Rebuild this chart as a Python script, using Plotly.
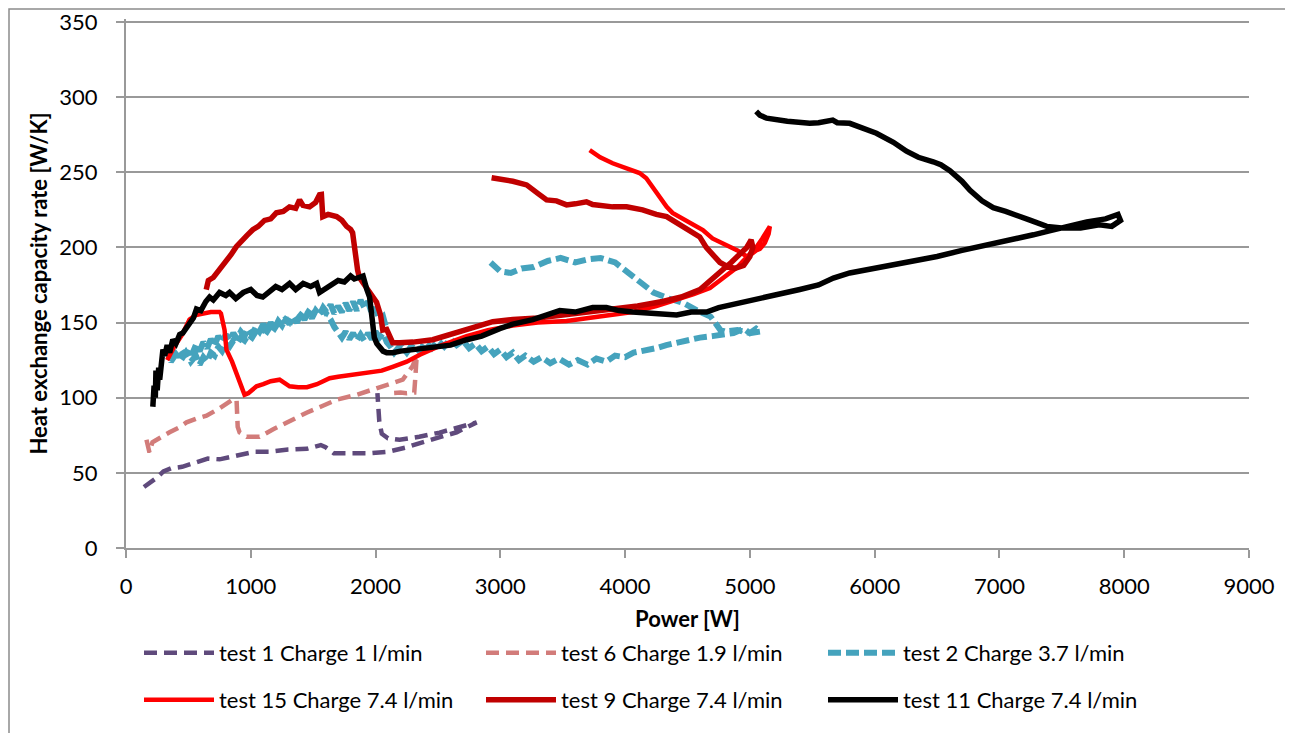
import plotly.graph_objects as go

# ---------------- data ----------------
t1_x = [144, 200, 250, 300, 360, 450, 550, 656, 750, 850, 1025, 1150, 1300, 1450, 1561, 1600, 1665, 1800, 1950, 2098,
        2250, 2362, 2500, 2650, 2810, 2650, 2513, 2350, 2193, 2100, 2050, 2030, 2018, 2015]
t1_y = [40.6, 44, 47, 51, 53, 54, 57, 59.5, 59, 61, 64, 64, 65.5, 66, 68.5, 67, 63, 63, 63, 64,
        67, 70, 73, 77, 83.6, 80, 76.8, 74, 72, 73, 76, 84, 95, 103]

t6_x = [164, 188, 212, 260, 349, 420, 485, 560, 645, 750, 855, 886, 895, 910, 966, 1020, 1070, 1180, 1287, 1360,
        1447, 1560, 1688, 1850, 2010, 2100, 2218, 2297, 2330, 2320, 2310, 2250, 2200, 2120]
t6_y = [72, 63.6, 70.4, 73, 77, 80, 83.6, 86, 88, 93, 98.7, 98.7, 80.7, 77, 74, 74, 74, 79, 83.6, 87,
        90, 94, 98.7, 102, 106.6, 109, 112, 121, 128, 115, 103.4, 103, 103.4, 103]

t2_x = [2080, 2060, 2030, 2000, 1970, 1940, 1910, 1880, 1850, 1820, 1790, 1760, 1730, 1700, 1670, 1640, 1608, 1580,
        1550, 1520, 1490, 1460, 1430, 1400, 1370, 1340, 1310, 1280, 1250, 1220, 1190, 1160, 1130, 1100, 1070, 1040,
        1010, 980, 950, 920, 890, 860, 830, 800, 770, 740, 710, 680, 650, 620, 590, 560, 530, 500, 470, 440, 410,
        380, 350, 330,
        360, 400, 440, 480, 520, 560, 590, 620, 650, 680, 710, 740, 770, 800, 830, 860, 890, 920, 950, 980, 1010,
        1040, 1070, 1100, 1130, 1160, 1190, 1220, 1250, 1280, 1310, 1340, 1370, 1400, 1430, 1460, 1490, 1520, 1550,
        1580, 1610, 1640, 1670, 1700, 1730, 1760, 1790, 1820, 1850, 1880, 1910, 1940, 1970, 2000, 2030, 2060, 2090,
        2120, 2150,
        2200, 2250, 2300, 2350, 2400, 2450, 2500, 2550, 2600, 2650, 2700, 2750, 2800, 2850, 2900, 2950, 3000, 3050,
        3100, 3150, 3200, 3267, 3330, 3400, 3470, 3550, 3620, 3699, 3770, 3850, 3920, 4000, 4068, 4150, 4250, 4330,
        4420, 4500, 4600, 4700, 4800, 4868, 4950, 5000, 5050, 5084,
        5000, 4900, 4800, 4764, 4720, 4684, 4580, 4468, 4350, 4228, 4120, 4019, 3920, 3803, 3700, 3600, 3483, 3380,
        3267, 3170, 3083, 3000, 2950, 2922]
t2_y = [148, 154, 152, 160, 156, 164, 160, 165, 158, 164, 158, 163, 157, 161, 156, 162, 157, 160,
        155, 158, 153, 157, 152, 156, 150, 154, 149, 153, 148, 151, 146, 150, 145, 149, 144, 147,
        142, 146, 141, 144, 139, 143, 138, 142, 137, 141, 135, 139, 133, 137, 131, 135, 129, 133, 128, 132, 127,
        131, 126, 130,
        124, 129, 125, 130, 124, 128, 122, 127, 124, 130, 128, 134, 131, 136, 134, 138, 136, 140, 138, 142, 140,
        144, 142, 146, 144, 148, 146, 150, 148, 152, 150, 154, 152, 155, 153, 157, 155, 158, 156,
        159, 156, 152, 147, 143, 140, 144, 139, 143, 138, 142, 138, 143, 139, 144, 140, 143, 137,
        134, 130,
        135, 130, 136, 131, 137, 133, 138, 134, 139, 135, 138, 133, 136, 131, 134, 129, 132, 127,
        130, 125, 128, 124, 127, 123, 126, 122, 125, 122, 126, 124, 128, 127, 130, 131, 133, 135,
        137, 138, 140, 141, 142, 143, 146, 143, 146, 144,
        143, 145, 144, 145, 150, 154, 158, 163, 166, 170, 177, 183, 190, 193, 192, 190, 193, 191,
        187, 186, 183, 184, 188, 190]

t15_x = [330, 380, 450, 509, 560, 620, 680, 750, 761, 790, 805, 850, 886, 920, 950, 980, 1020, 1046, 1100, 1160,
         1231, 1270, 1311, 1380, 1450, 1530, 1632, 1700, 1800, 1952, 2050, 2137, 2250, 2355, 2500, 2730, 2900, 3100,
         3300, 3531, 3700, 3900, 4060, 4250, 4413, 4550, 4680, 4810, 4900, 4980, 5050, 5100, 5140, 5160, 5150, 5120,
         5080, 5050, 5020, 4975, 4900, 4800, 4700, 4623, 4530, 4438, 4380, 4333, 4280, 4220, 4170, 4116, 4000, 3900,
         3800, 3716]
t15_y = [125, 133, 142, 152, 155, 156, 157, 157, 156, 145, 132, 124, 116.6, 109, 102, 103, 106, 107.6, 109, 111,
         112, 110, 107.6, 107, 107, 109, 113, 114, 115, 116.6, 118, 120.6, 124, 128.6, 134, 141, 145, 148,
         150, 151, 153, 155, 157, 161, 165, 169, 173, 181, 187, 194, 200, 206, 212, 214, 209, 203,
         199, 198, 196, 194, 198, 202, 206, 211.6, 216, 220.5, 223, 227, 233, 240.4, 246, 249.5, 253, 256,
         260, 264.8]

t9_x = [643, 660, 700, 750, 800, 840, 884, 930, 970, 1016, 1060, 1110, 1160, 1205, 1260, 1310, 1360, 1391, 1418, 1471,
        1520, 1551, 1566, 1577, 1620, 1688, 1730, 1768, 1800, 1816, 1830, 1840, 1856, 1870, 1896, 1940, 1978, 2008,
        2040, 2058, 2089, 2137, 2193, 2300, 2458, 2600, 2730, 2939, 3100, 3300, 3500, 3700, 3900, 4100, 4300, 4450,
        4600, 4703, 4780, 4850, 4920, 4975, 5010, 5024, 5000, 4950, 4880, 4815, 4760, 4720, 4703, 4650, 4598, 4540,
        4494, 4420, 4333, 4250, 4140, 4012, 3900, 3740, 3690, 3600, 3531, 3450, 3371, 3300, 3211, 3100, 2930]
t9_y = [172, 178, 180, 185, 190, 195, 200.5, 204, 208, 211.8, 214, 218, 219, 223, 224, 227, 226, 231.6, 228, 227,
        230, 235, 235.2, 220.5, 222, 220.5, 218, 214, 212, 209.8, 200, 192, 185, 180, 176.7, 172, 167, 163.5,
        155, 145, 145.5, 136.6, 136.6, 137, 138.6, 142, 145.3, 150.6, 152, 153, 155, 157, 159, 161, 164, 167,
        172, 180, 185, 190, 196, 200, 205, 200, 194, 188, 186, 187.5, 190, 194, 196, 200, 207, 210,
        211.8, 216, 220.5, 222, 225, 227, 227, 228.5, 230.4, 229, 228.3, 231, 231.6, 236, 241.6, 244, 246.4]

t11_x = [215, 225, 235, 240, 250, 262, 270, 283, 296, 310, 330, 350, 375, 400, 430, 455, 480, 510, 540, 565,
         600, 640, 670, 700, 750, 800, 830, 880, 940, 1000, 1050, 1096, 1150, 1200, 1250, 1311, 1360, 1420, 1480, 1528,
         1551, 1600, 1650, 1700, 1750, 1800, 1830, 1872, 1900, 1930, 1952, 1965, 1978, 1990, 2010, 2033, 2060, 2089,
         2137, 2200, 2300, 2458, 2600, 2730, 2850, 2995, 3100, 3260, 3370, 3476, 3600, 3740, 3850, 3950, 4060, 4200,
         4300, 4413, 4530, 4653, 4750, 4862, 5000, 5055, 5135, 5300, 5400, 5550, 5669, 5800, 6000, 6200, 6339, 6500,
         6700, 6924, 7100, 7272, 7400, 7544, 7700, 7850, 7950, 7970, 7900, 7800, 7650, 7500, 7379, 7250, 7138, 7050,
         6950, 6860, 6764, 6700, 6603, 6530, 6469, 6350, 6255, 6150, 6014, 5900, 5800, 5700, 5664, 5550, 5479, 5300,
         5134, 5080, 5050]
t11_y = [94, 108, 100, 118, 105, 120, 112, 125, 132, 128, 135, 130, 138.6, 136, 142, 143, 146, 150, 153, 159,
         158, 164, 167, 165, 170, 168, 170, 166, 170, 172, 168, 167, 171, 174, 172, 176, 172, 176, 174, 176,
         170, 173, 175, 178, 177, 181, 179, 180.5, 181, 172, 167, 158, 145, 140, 136, 133, 131, 130,
         130, 131, 132, 133, 135, 138.6, 141, 146, 149, 152, 155, 158, 157, 160, 160, 158, 157, 156,
         156, 155, 157, 157, 160, 162, 164, 165, 167, 170, 172, 175, 179.6, 183, 186, 189, 191.7, 194,
         198, 201.8, 205, 208.4, 211, 214, 217, 219, 222, 218, 214, 215, 213, 213, 214, 218, 221.8, 224,
         226.5, 231, 238, 244, 251, 255, 257, 260, 264, 270, 276, 280, 282.6, 283, 284.7, 283, 282.6, 284,
         286, 288, 290.5]

series_names = ["test 1 Charge 1 l/min", "test 6 Charge 1.9 l/min", "test 2 Charge 3.7 l/min",
                "test 15 Charge 7.4 l/min", "test 9 Charge 7.4 l/min", "test 11 Charge 7.4 l/min"]
x_ticks = [0, 1000, 2000, 3000, 4000, 5000, 6000, 7000, 8000, 9000]
y_ticks = [0, 50, 100, 150, 200, 250, 300, 350]

# ---------------- styles ----------------
FONT = "Lato"
series = [
    (t1_x, t1_y, "#5F4A7C", 4.5, "13px,7px", "legend"),
    (t6_x, t6_y, "#D27C7A", 4.5, "13px,7px", "legend"),
    (t2_x, t2_y, "#45A3BD", 6, "13px,5px", "legend"),
    (t15_x, t15_y, "#FF0000", 4.5, "solid", "legend2"),
    (t9_x, t9_y, "#C00000", 5.5, "solid", "legend2"),
    (t11_x, t11_y, "#000000", 5.5, "solid", "legend2"),
]

fig = go.Figure()
for (xs, ys, col, w, dash, lg), name in zip(series, series_names):
    assert len(xs) == len(ys), name
    fig.add_trace(go.Scatter(x=xs, y=ys, mode="lines", name=name, legend=lg,
                             line=dict(color=col, width=w, dash=dash)))

W, H = 1293, 733
ML, MT, PW, PH = 118, 11, 1123, 529      # plot area inside the figure
Y_TOP = 352                              # a little headroom so the 350 gridline is kept
line_col = "#999999"
legend_common = dict(orientation="h", xanchor="left", yanchor="middle",
                     xref="container", yref="container",
                     entrywidth=257, entrywidthmode="pixels", itemwidth=70,
                     font=dict(family=FONT, size=22, color="#000000"),
                     bgcolor="rgba(0,0,0,0)", traceorder="normal")

fig.update_layout(
    width=W, height=H,
    paper_bgcolor="white", plot_bgcolor="white",
    margin=dict(l=ML, r=W - ML - PW, t=MT, b=H - MT - PH, autoexpand=False),
    font=dict(family=FONT, size=22, color="#000000"),
    xaxis=dict(range=[0, 9000], tickvals=x_ticks, showgrid=False, zeroline=False, automargin=True,
               showline=True, linecolor=line_col, linewidth=2, ticklabeloverflow="allow",
               ticks="outside", ticklen=8, tickwidth=2, tickcolor=line_col,
               ticklabelstandoff=10,
               title=dict(text="<b>Power [W]</b>", font=dict(family=FONT, size=22), standoff=23)),
    yaxis=dict(range=[0, Y_TOP], tickvals=y_ticks, showgrid=True, gridcolor=line_col, gridwidth=2,
               zeroline=False, showline=True, linecolor=line_col, linewidth=2, automargin=True,
               ticklabeloverflow="allow",
               ticks="outside", ticklen=8, tickwidth=2, tickcolor=line_col,
               ticklabelstandoff=14,
               title=dict(text="<b>Heat exchange capacity rate [W/K]</b>",
                          font=dict(family=FONT, size=22), standoff=6)),
    legend=dict(x=131 / W, y=1 - 645 / H, **legend_common),
    legend2=dict(x=131 / W, y=1 - 692 / H, **legend_common),
    shapes=[dict(type="rect", xref="paper", yref="paper",
                 x0=(1 - ML) / PW, x1=(1283 - ML) / PW, y0=-0.4, y1=1 + (MT - 1) / PH,
                 line=dict(color="#8C8C8C", width=1.5), fillcolor="rgba(0,0,0,0)", layer="below")],
)

fig.write_html("out.html")
